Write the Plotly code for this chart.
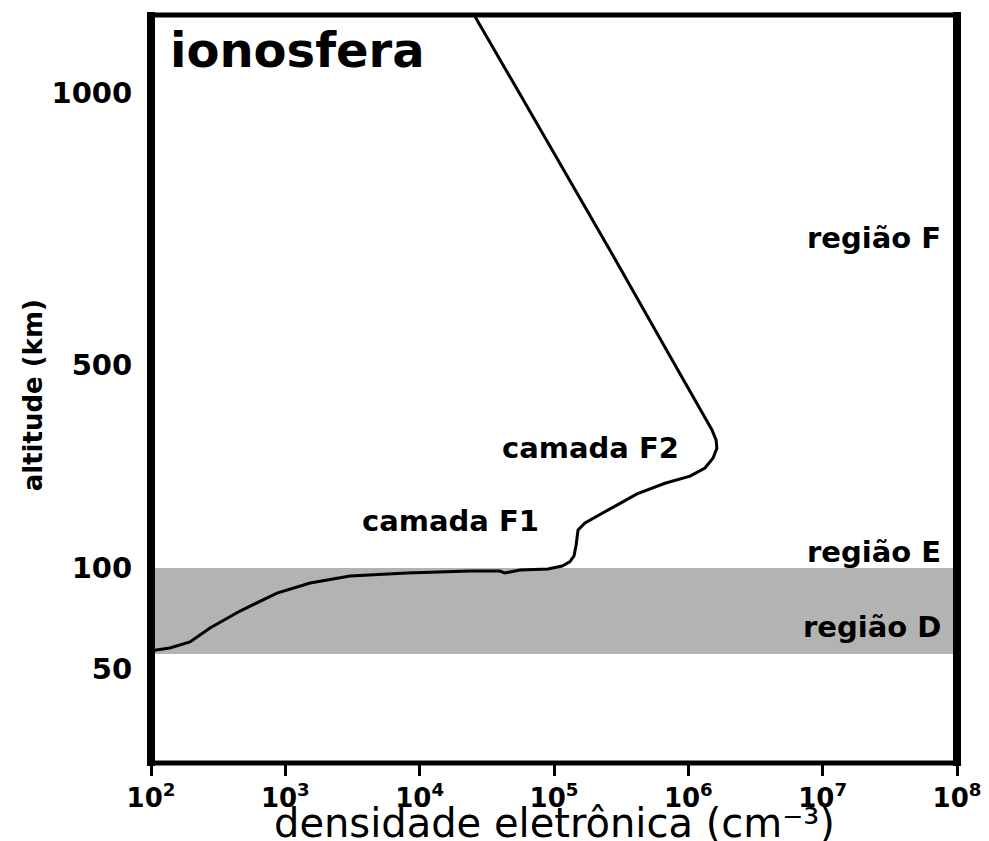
import numpy as np
import plotly.graph_objects as go

# ---- data ----
density = [1.0e2, 1.38e2, 1.95e2, 2.75e2, 4.6e2, 8.67e2, 1.53e3, 3.03e3, 8.05e3,
           2.37e4, 3.96e4, 4.31e4, 4.71e4, 5.58e4, 9.02e4, 1.15e5, 1.31e5, 1.41e5,
           1.46e5, 1.51e5, 1.70e5, 2.13e5, 2.94e5, 4.15e5, 6.70e5, 1.03e6, 1.33e6,
           1.53e6, 1.63e6, 1.61e6, 1.50e6, 7.96e5, 2.61e5, 5.52e4, 2.45e4]
altitude = [59, 60.4, 63.4, 70.3, 78.7, 87.6, 92.6, 96.0, 97.5,
            98.5, 98.5, 97.5, 98.0, 99.0, 99.5, 104, 112, 124,
            145, 175, 189, 204, 224, 246, 267, 281, 297,
            317, 336, 352, 372, 500, 711, 1000, 1150]

band_altitudes = [57.4, 100]            # região D/E shaded band
y_tick_altitudes = [50, 100, 500, 1000]
y_tick_labels = ["50", "100", "500", "1000"]
x_tick_values = [1e2, 1e3, 1e4, 1e5, 1e6, 1e7, 1e8]
x_tick_labels = ["10<sup>%d</sup>" % e for e in range(2, 9)]

# piecewise-linear altitude scale of the original figure (breakpoints)
ALT_KNOTS = [0, 50, 100, 500, 1000, 1200]
SCALE_KNOTS = [-7, 94, 195, 398, 670, 779]
Y_RANGE = [0, 748]


def yscale(a):
    return np.interp(a, ALT_KNOTS, SCALE_KNOTS)


FONT = "DejaVu Sans"

fig = go.Figure()

fig.add_trace(go.Scatter(
    x=density, y=yscale(altitude), mode="lines",
    line=dict(color="black", width=3), hoverinfo="skip", showlegend=False))

shapes = [
    dict(type="rect", xref="paper", yref="y", x0=0, x1=1,
         y0=float(yscale(band_altitudes[0])), y1=float(yscale(band_altitudes[1])),
         fillcolor="#b3b3b3", line=dict(width=0), layer="below"),
    # frame
    dict(type="line", xref="paper", yref="paper", x0=0, x1=0, y0=-0.004, y1=1.004,
         line=dict(color="black", width=8)),
    dict(type="line", xref="paper", yref="paper", x0=1, x1=1, y0=-0.004, y1=1.004,
         line=dict(color="black", width=8)),
    dict(type="line", xref="paper", yref="paper", x0=-0.005, x1=1.005, y0=1, y1=1,
         line=dict(color="black", width=5)),
    dict(type="line", xref="paper", yref="paper", x0=-0.005, x1=1.005, y0=0, y1=0,
         line=dict(color="black", width=5)),
]

bold = lambda s: dict(family=FONT, size=s, color="black", weight="bold")

annotations = [
    dict(text="ionosfera", xref="paper", yref="paper", x=0.021, y=0.953,
         xanchor="left", yanchor="middle", showarrow=False, font=bold(48)),
    dict(text="região F", xref="paper", yref="y", x=0.9826, y=float(yscale(733)),
         xanchor="right", yanchor="middle", showarrow=False, font=bold(29)),
    dict(text="região E", xref="paper", yref="y", x=0.9826, y=float(yscale(131.5)),
         xanchor="right", yanchor="middle", showarrow=False, font=bold(29)),
    dict(text="região D", xref="paper", yref="y", x=0.9826, y=float(yscale(70.8)),
         xanchor="right", yanchor="middle", showarrow=False, font=bold(29)),
    dict(text="camada F2", xref="paper", yref="y", x=0.5447, y=float(yscale(336)),
         xanchor="center", yanchor="middle", showarrow=False, font=bold(29)),
    dict(text="camada F1", xref="paper", yref="y", x=0.371, y=float(yscale(192.6)),
         xanchor="center", yanchor="middle", showarrow=False, font=bold(29)),
    dict(text="densidade eletrônica (cm⁻³)", xref="paper", yref="paper",
         x=0.501, y=-0.0802, xanchor="center", yanchor="middle", showarrow=False,
         font=dict(family=FONT, size=40, color="black")),
    dict(text="altitude (km)", xref="paper", yref="paper", x=-0.146, y=0.492,
         textangle=-90, xanchor="center", yanchor="middle", showarrow=False,
         font=bold(26)),
]

fig.update_layout(
    width=989, height=841,
    margin=dict(l=143, r=40, t=7, b=86),
    paper_bgcolor="white", plot_bgcolor="white",
    shapes=shapes, annotations=annotations,
    xaxis=dict(type="log", range=[2, 8], tickvals=x_tick_values, ticktext=x_tick_labels,
               ticks="outside", ticklen=12, tickwidth=3, tickcolor="black",
               showgrid=False, zeroline=False, showline=False,
               tickfont=bold(26)),
    yaxis=dict(range=Y_RANGE, tickvals=[float(v) for v in yscale(y_tick_altitudes)],
               ticktext=y_tick_labels, ticks="outside", ticklen=12,
               tickcolor="rgba(0,0,0,0)", showgrid=False, zeroline=False,
               showline=False, tickfont=bold(29)),
)

fig.write_html("out.html")
